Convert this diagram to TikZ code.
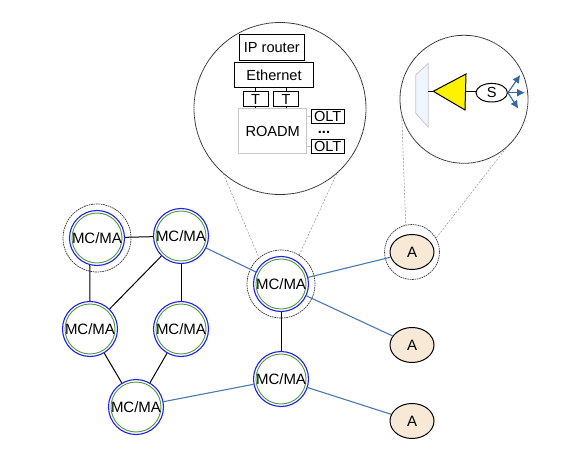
\documentclass[tikz,border=0pt]{standalone}
\usepackage{fontspec}
\setmainfont{Liberation Sans}
\usepackage{xcolor}
\usepackage{tikz}
\usetikzlibrary{arrows.meta,positioning,calc,shapes.geometric}
\definecolor{ringblue}{HTML}{2020F0}
\definecolor{ringgreen}{HTML}{4E9A3C}
\definecolor{linkblue}{HTML}{4A78B4}
\definecolor{arrowblue}{HTML}{3566A6}
\definecolor{accfill}{HTML}{F8E9D6}
\definecolor{muxfill}{HTML}{EEF5FC}
\definecolor{softgray}{HTML}{C8C8C8}
\tikzset{
  mcma/.style={circle, draw=ringblue, line width=1.1pt, fill=white, minimum size=55pt, inner sep=0pt,
               font=\fontsize{15}{17}\selectfont,
               path picture={\draw[ringgreen, line width=0.9pt] (path picture bounding box.center) circle (25pt);}},
  accnode/.style={ellipse, draw=black, line width=1pt, fill=accfill, minimum width=44pt, minimum height=35pt,
                  inner sep=0pt, font=\fontsize{15}{17}\selectfont},
  halo/.style={circle, draw=black!80, dash pattern=on 1.6pt off 0.8pt, line width=0.7pt, inner sep=0pt, minimum size=#1},
  lens/.style={circle, draw=black!80, dash pattern=on 1.6pt off 0.4pt, line width=0.8pt, fill=white, inner sep=0pt, minimum size=#1},
  layerbox/.style={rectangle, draw=black, line width=1pt, inner sep=0pt, font=\fontsize{14.6}{16}\selectfont},
  trunk/.style={line width=1pt, draw=black},
  link/.style={line width=1.1pt, draw=linkblue},
  guide/.style={line width=0.5pt, draw=black!45, dash pattern=on 2pt off 1.5pt},
  arr/.style={-{Latex[length=8pt,width=8pt]}, line width=1.1pt, draw=arrowblue, fill=arrowblue},
}
\begin{document}
\begin{tikzpicture}[x=1pt, y=-1pt]
\useasboundingbox (0,0) rectangle (581,465);
\node[halo=68pt] (h1) at (97,238) {};
\node[halo=68pt] (h6) at (281,284) {};
\node[halo=55pt] (ha) at (412,252) {};
\node[lens=172pt] (lensL) at (280,108.5) {};
\node[lens=128pt] (lensR) at (464,99.3) {};
\node[mcma] (mc1) at (97,238) {MC/MA};
\node[mcma] (mc2) at (181,236) {MC/MA};
\node[mcma] (mc3) at (90,329) {MC/MA};
\node[mcma] (mc4) at (181,329) {MC/MA};
\node[mcma] (mc5) at (136,407) {MC/MA};
\node[mcma] (mc6) at (281,284) {MC/MA};
\node[mcma] (mc7) at (281,379) {MC/MA};
\node[accnode] (a1) at (412,252) {A};
\node[accnode] (a2) at (412,345) {A};
\node[accnode] (a3) at (412,421) {A};
\draw[trunk] (mc1) -- (mc2);
\draw[trunk] (mc1.255) -- (mc3.north);
\draw[trunk] (mc2) -- (mc3);
\draw[trunk] (mc2) -- (mc4);
\draw[trunk] (mc3) -- (mc5);
\draw[trunk] (mc4) -- (mc5);
\draw[trunk] (mc6) -- (mc7);
\draw[link] (mc2) -- (mc6);
\draw[link] (mc6) -- (a1);
\draw[link] (mc6) -- (a2);
\draw[link] (mc5) -- (mc7);
\draw[link] (mc7) -- (a3);
\draw[guide] (lensL.229) -- (h6.130);
\draw[guide] (lensL.311) -- (h6.58);
\draw[guide] (lensR.195) -- (ha.103);
\draw[guide] (lensR.311) -- (ha.30);
\node[layerbox, minimum width=65pt, minimum height=25.7pt] (router) at (271.8,47.2) {IP router};
\node[layerbox, minimum width=79.4pt, minimum height=25.4pt] (eth) at (274,75) {Ethernet};
\node[layerbox, minimum width=25pt, minimum height=15.4pt] (t1) at (255.5,99) {T};
\node[layerbox, minimum width=25.4pt, minimum height=15.4pt] (t2) at (286,99) {T};
\node[rectangle, draw=softgray, line width=0.7pt, minimum width=68pt, minimum height=44.6pt, inner sep=0pt, font=\fontsize{14.6}{16}\selectfont] (roadm) at (272.7,131) {ROADM};
\node[layerbox, minimum width=32.7pt, minimum height=14pt] (olt1) at (327.7,116.3) {OLT};
\node[layerbox, minimum width=32.7pt, minimum height=13.4pt] (olt2) at (327.7,146.7) {OLT};
\node[font=\fontsize{14.6}{16}\selectfont\bfseries, inner sep=0pt] (dots) at (324,132) {...};
\draw[line width=0.7pt] (eth.south -| t1) -- (t1.north);
\draw[line width=0.7pt] (eth.south -| t2) -- (t2.north);
\draw[line width=0.7pt] (t1.south) -- (roadm.north -| t1);
\draw[line width=0.7pt] (t2.south) -- (roadm.north -| t2);
\draw[draw=softgray, line width=0.7pt] (olt1.west) -- (roadm.east |- olt1.west);
\draw[draw=softgray, line width=0.7pt] (olt2.west) -- (roadm.east |- olt2.west);
\draw[draw=softgray, line width=0.8pt, fill=muxfill] (415.7,75) -- (428.3,63.3) -- (428.3,127.3) -- (415.7,113.3) -- cycle;
\draw[draw=black, line width=1pt, fill=yellow] (433.3,91.3) -- (466,74) -- (465,110) -- cycle;
\coordinate (muxport) at (428.3,91.3);
\coordinate (amptip) at (433.3,91.3);
\coordinate (ampback) at (466,91.3);
\node[ellipse, draw=black, line width=1pt, fill=white, minimum width=31.4pt, minimum height=18.6pt, inner sep=0pt, font=\fontsize{14.6}{16}\selectfont] (splitter) at (491.7,92.7) {S};
\draw[trunk] (muxport) -- (amptip);
\draw[trunk] (ampback) -- (ampback -| splitter.west);
\coordinate (tipa) at (520.3,75);
\coordinate (tipb) at (525,92.7);
\coordinate (tipc) at (518.3,108.7);
\draw[arr] (splitter.east) -- (tipa);
\draw[arr] (splitter.east) -- (tipb);
\draw[arr] (splitter.east) -- (tipc);
\end{tikzpicture}
\end{document}
